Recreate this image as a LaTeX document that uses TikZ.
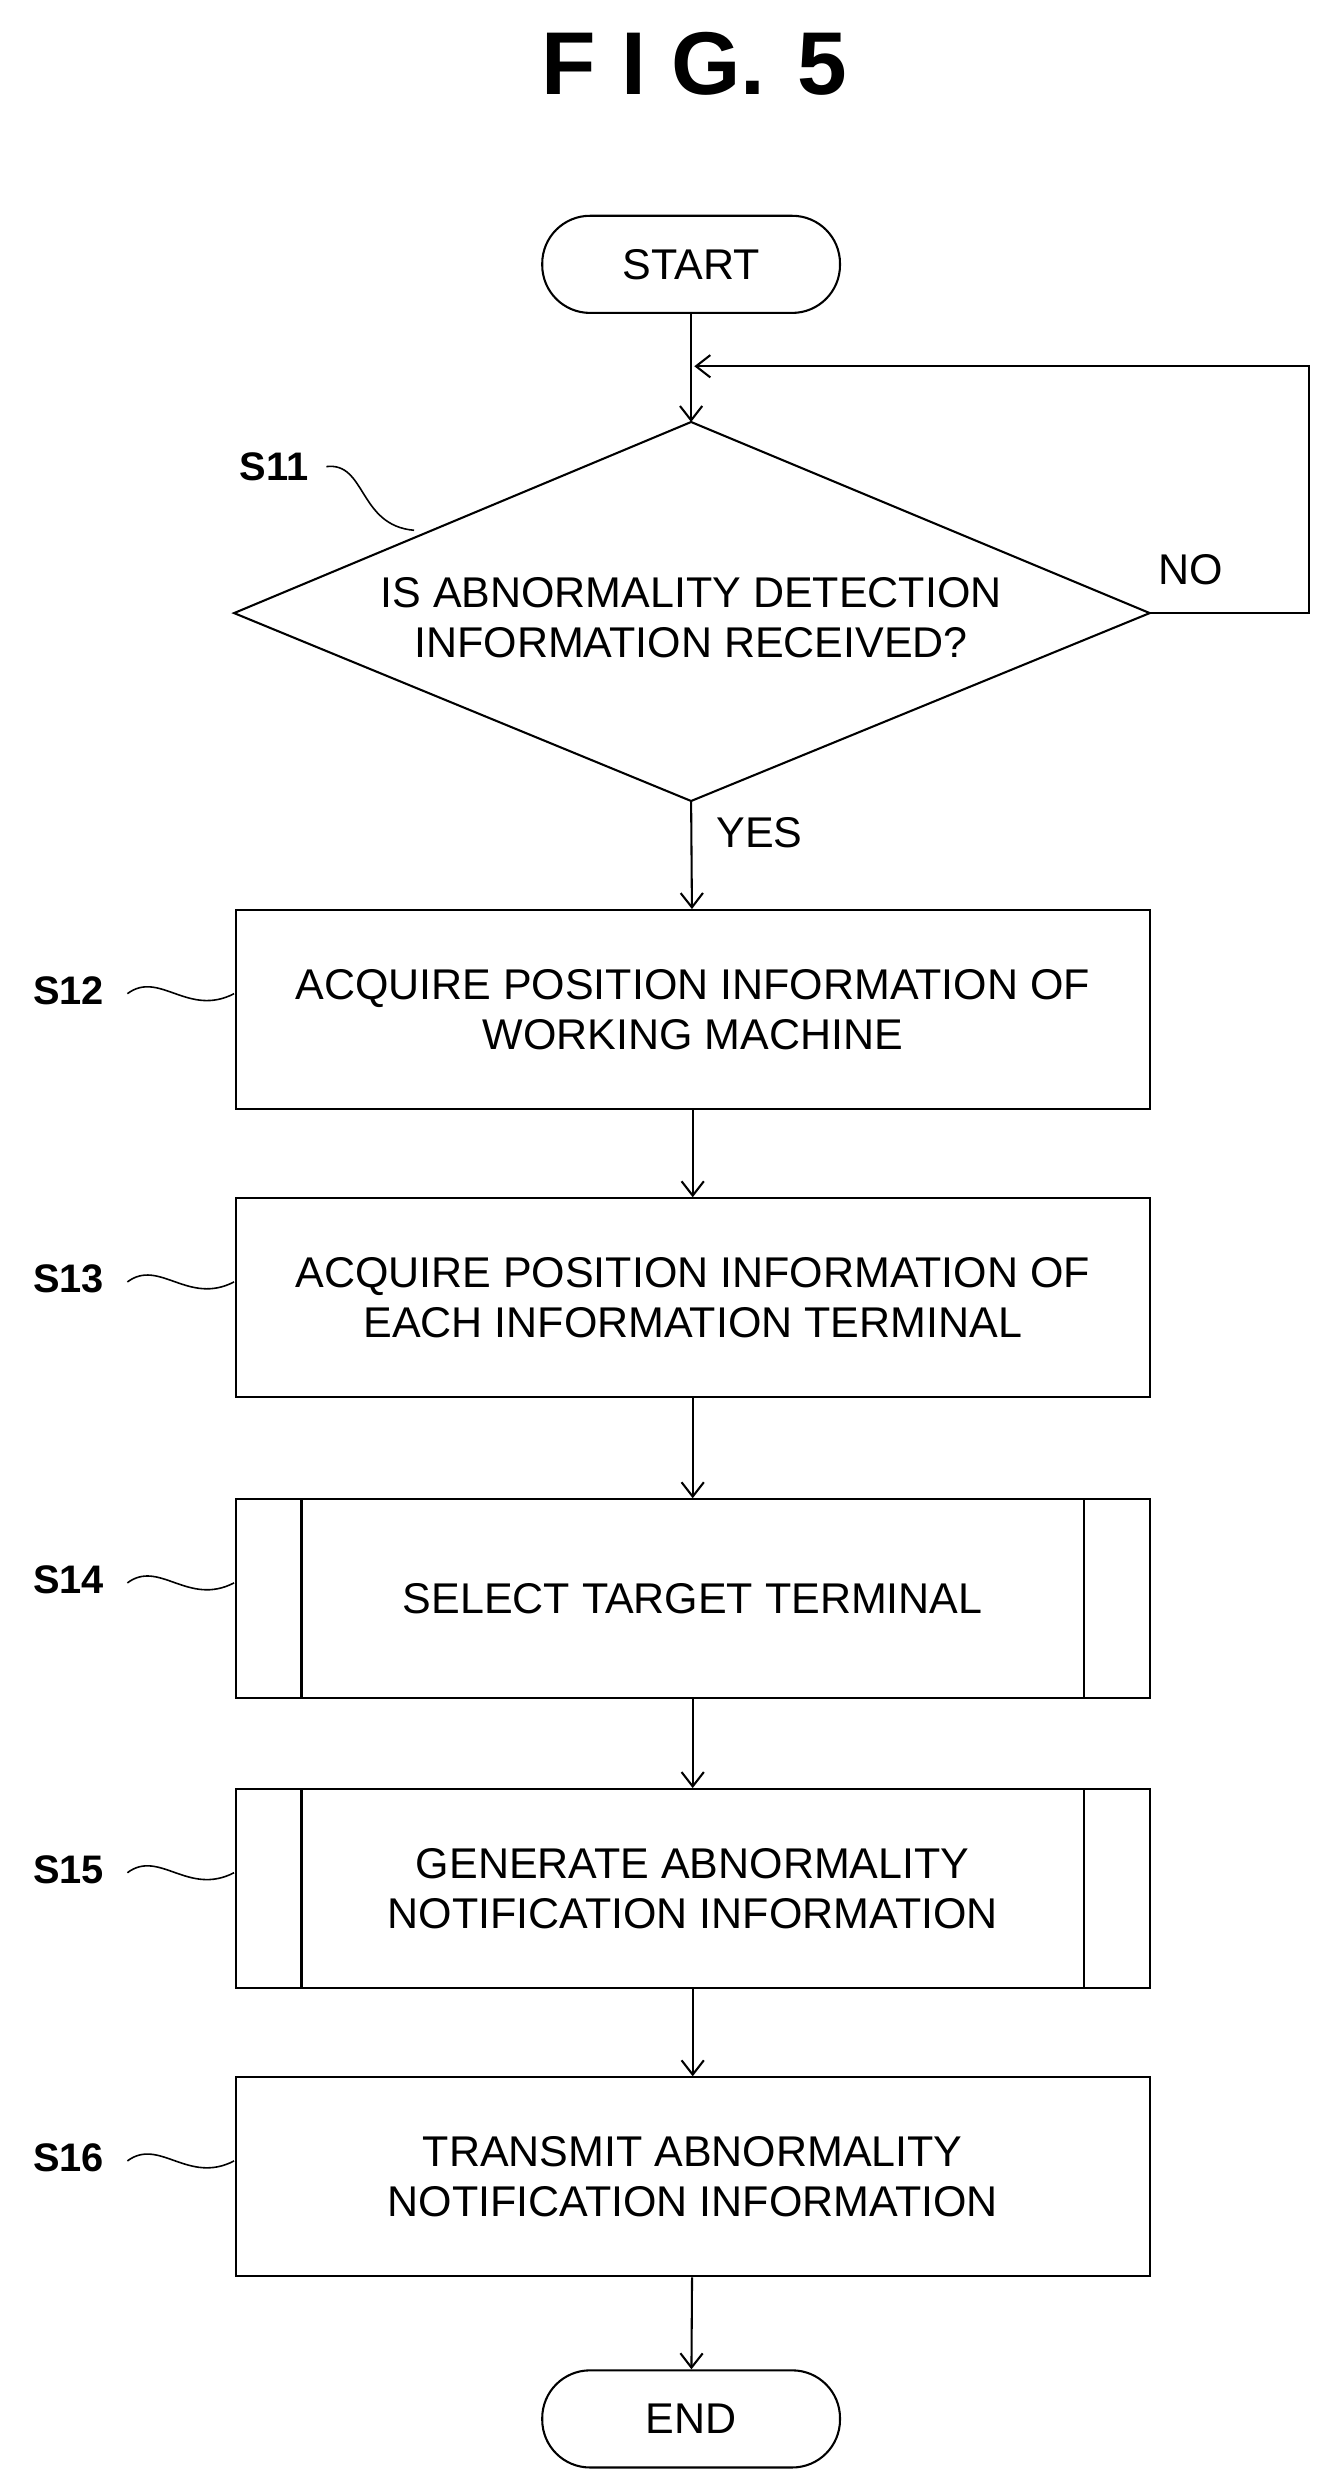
\documentclass[tikz,border=0pt]{standalone}
\usepackage{fontspec}
\setmainfont{Liberation Sans}
\usetikzlibrary{shapes.geometric,arrows.meta}
\begin{document}
\begin{tikzpicture}[x=1pt,y=-1pt,line width=1.3pt,
  txt/.style={font=\fontsize{27}{31}\selectfont,align=center},
  box/.style={draw,rectangle,minimum width=574pt,minimum height=125pt,txt,inner sep=0pt},
  term/.style={draw,rounded corners=30pt,minimum width=187pt,minimum height=61pt,txt,inner sep=0pt},
  arr/.style={-{Straight Barb[length=9pt,width=14pt,line width=1.3pt]}},
  lab/.style={font=\fontsize{25}{28}\selectfont\bfseries},
  wav/.style={line width=1pt}]
\useasboundingbox (0,0) rectangle (830,1558);
\node[font=\fontsize{56}{60}\selectfont\bfseries] (title) at (436,40) {F\hspace{16pt}I\hspace{16pt}G.\hspace{20pt}5};
\node[term] (start) at (434,166) {START};
\coordinate (dn) at (434,265);
\coordinate (ds) at (434,503);
\coordinate (dw) at (147,385);
\coordinate (de) at (722,385);
\draw (dn) -- (de) -- (ds) -- (dw) -- cycle;
\node[txt] (d) at (434,388) {IS ABNORMALITY DETECTION\\INFORMATION RECEIVED?};
\node[box] (s12) at (435,634) {ACQUIRE POSITION INFORMATION OF\\WORKING MACHINE};
\node[box] (s13) at (435,815) {ACQUIRE POSITION INFORMATION OF\\EACH INFORMATION TERMINAL};
\node[box] (s14) at (435,1004) {SELECT TARGET TERMINAL};
\node[box] (s15) at (435,1186) {GENERATE ABNORMALITY\\NOTIFICATION INFORMATION};
\node[box] (s16) at (435,1367) {TRANSMIT ABNORMALITY\\NOTIFICATION INFORMATION};
\node[term] (end) at (434,1519) {END};
\draw ([xshift=42pt]s14.north west) -- ([xshift=42pt]s14.south west);
\draw ([xshift=-42pt]s14.north east) -- ([xshift=-42pt]s14.south east);
\draw ([xshift=42pt]s15.north west) -- ([xshift=42pt]s15.south west);
\draw ([xshift=-42pt]s15.north east) -- ([xshift=-42pt]s15.south east);
\coordinate (loop) at (434,230);
\draw[arr] (start) -- (dn);
\draw[arr] (de) -- (822,385) -- (822,230) -- ([xshift=2pt]loop);
\draw[arr] (ds) -- (s12);
\draw[arr] (s12) -- (s13);
\draw[arr] (s13) -- (s14);
\draw[arr] (s14) -- (s15);
\draw[arr] (s15) -- (s16);
\draw[arr] (s16) -- (end);
\node[txt] (no) at (748,358) {NO};
\node[txt] (yes) at (477,523) {YES};
\node[lab] (l11) at (172,293) {S11};
\draw[wav] (205,293) .. controls (230,290) and (225,330) .. (260,333);
\foreach \n/\y in {12/634,13/815,14/1004,15/1186,16/1367}{
  \node[lab] (l\n) at (43,\y-12) {S\n};
  \draw[wav] (80,\y-10) .. controls (100,\y-25) and (118,\y+5) .. (147,\y-10);
}
\end{tikzpicture}
\end{document}
